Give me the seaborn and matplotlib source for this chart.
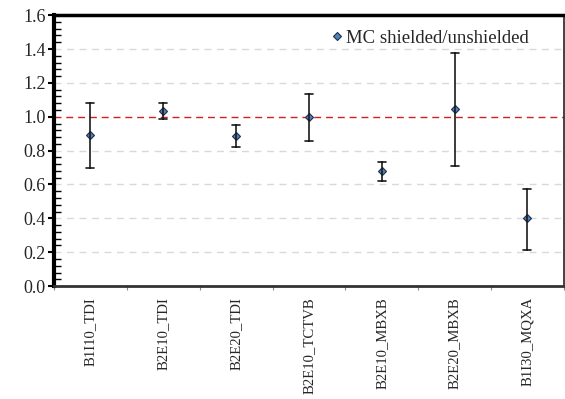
import numpy as np
import pandas as pd
import matplotlib
matplotlib.use("Agg")
import matplotlib.pyplot as plt
from matplotlib.ticker import MultipleLocator, FixedLocator
import seaborn as sns

# Shielded / unshielded Monte Carlo ratio per monitor location
locations = ["B1I10_TDI", "B2E10_TDI", "B2E20_TDI", "B2E10_TCTVB",
             "B2E10_MBXB", "B2E20_MBXB", "B1I30_MQXA"]
ratio = [0.893, 1.035, 0.888, 1.000, 0.680, 1.048, 0.400]
ratio_low = [0.697, 0.986, 0.822, 0.858, 0.622, 0.712, 0.215]
ratio_high = [1.080, 1.080, 0.950, 1.132, 0.733, 1.378, 0.572]

rows = []
for loc, lo, mid, hi in zip(locations, ratio_low, ratio, ratio_high):
    for v in (lo, mid, hi):
        rows.append({"location": loc, "ratio": v})
df = pd.DataFrame(rows)

sns.set_style("white")
plt.rcParams["font.family"] = ["Liberation Serif", "DejaVu Serif"]

fig = plt.figure(figsize=(5.65, 3.99), dpi=100)
ax = fig.add_axes([0.0956, 0.283, 0.9024, 0.679])

# reference level at ratio = 1
for g in np.arange(0.2, 1.41, 0.2):
    if abs(g - 1.0) < 1e-6:
        continue
    ax.axhline(g, color="#d9d9d9", lw=1.0, ls=(0, (5, 4)), zorder=0)
ax.axhline(1.0, color="#d42020", lw=1.0, ls=(0, (5, 3.5)), zorder=1)

sns.pointplot(
    data=df, x="location", y="ratio", order=locations,
    estimator="median", errorbar=lambda v: (v.min(), v.max()),
    linestyle="none", marker="D", markersize=4.4,
    color="#4f81bd", markeredgecolor="#1f2f4a", markeredgewidth=0.8,
    capsize=0.11, err_kws={"color": "#1a1a1a", "linewidth": 1.2},
    label="MC shielded/unshielded", ax=ax,
)

ax.set_xlim(-0.5, len(locations) - 0.5)
ax.set_ylim(0, 1.6)
ax.set_xlabel("")
ax.set_ylabel("")

ax.yaxis.set_major_locator(MultipleLocator(0.2))
ax.yaxis.set_minor_locator(MultipleLocator(0.04))
ax.set_yticks(np.arange(0, 1.61, 0.2))
ax.set_yticklabels([f"{v:.1f}" for v in np.arange(0, 1.61, 0.2)], fontsize=13)
ax.tick_params(axis="y", which="major", direction="out", length=4, width=1.5,
               color="black", left=True, pad=2)
ax.tick_params(axis="y", which="minor", direction="in", length=5, width=1.0,
               color="black", left=True)

ax.set_xticks(range(len(locations)))
ax.set_xticklabels(locations, rotation=90, fontsize=10.6)
ax.xaxis.set_minor_locator(FixedLocator(np.arange(-0.5, len(locations), 1.0)))
ax.tick_params(axis="x", which="major", length=0, pad=8)
ax.tick_params(axis="x", which="minor", direction="out", length=3, width=0.8,
               color="#888888", bottom=True)

for side, lw, col in [("left", 3.0, "black"), ("top", 2.5, "black"),
                      ("bottom", 2.0, "#333333"), ("right", 1.2, "#222222")]:
    ax.spines[side].set_visible(True)
    ax.spines[side].set_linewidth(lw)
    ax.spines[side].set_color(col)

leg = ax.legend(loc="upper left", bbox_to_anchor=(0.53, 0.975), frameon=False,
                fontsize=13.5, handlelength=0.6, handletextpad=0.15,
                borderaxespad=0.0)

fig.savefig("out.png", dpi=100)
